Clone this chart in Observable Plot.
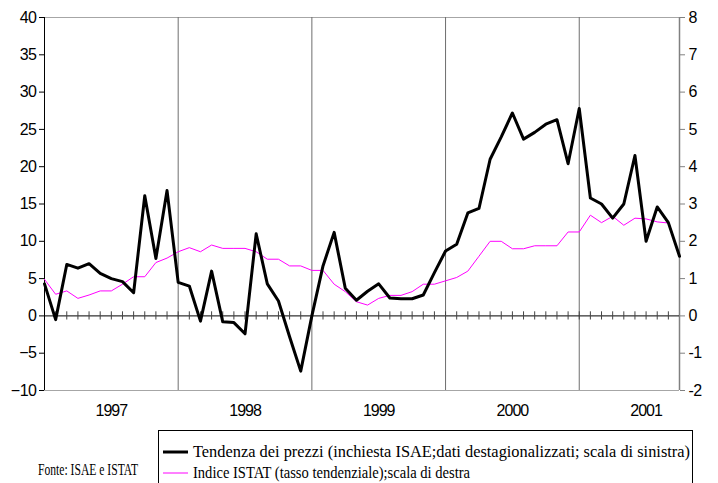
<!DOCTYPE html>
<html>
<head>
<meta charset="utf-8">
<script src="https://cdn.jsdelivr.net/npm/d3@7"></script>
<script src="https://cdn.jsdelivr.net/npm/@observablehq/plot@0.6"></script>
<style>
  html, body { margin: 0; padding: 0; background: #fff; }
  #chart svg { display: block; }
</style>
</head>
<body>
<div id="chart"></div>
<script>
// Monthly observations, index 0 = Jan 1997
const tendenza = [4.3, -0.5, 6.9, 6.4, 7.0, 5.7, 5.0, 4.6, 3.1, 16.1, 7.7, 16.8,
  4.5, 4.0, -0.7, 6.0, -0.8, -0.9, -2.4, 11.0, 4.3, 2.0, -2.8, -7.4,
  0.0, 6.7, 11.2, 3.7, 2.1, 3.3, 4.3, 2.4, 2.3, 2.3, 2.8, 5.8,
  8.7, 9.6, 13.8, 14.4, 21.0, 24.0, 27.2, 23.7, 24.6, 25.7, 26.3, 20.4,
  27.8, 15.8, 15.0, 13.1, 15.0, 21.5, 10.0, 14.6, 12.5, 8.0];
const istat = [0.98, 0.58, 0.67, 0.47, 0.56, 0.67, 0.67, 0.85, 1.05, 1.05, 1.43, 1.55,
  1.72, 1.83, 1.72, 1.9, 1.81, 1.81, 1.81, 1.72, 1.52, 1.52, 1.34, 1.34,
  1.22, 1.22, 0.85, 0.65, 0.38, 0.29, 0.47, 0.55, 0.55, 0.65, 0.85, 0.85,
  0.94, 1.03, 1.2, 1.6, 2.0, 2.0, 1.8, 1.8, 1.88, 1.88, 1.88, 2.25,
  2.25, 2.7, 2.5, 2.67, 2.43, 2.62, 2.6, 2.52, 2.49];
const years = ["1997", "1998", "1999", "2000", "2001"];
const leftTicks = [-10, -5, 0, 5, 10, 15, 20, 25, 30, 35, 40];
const rightTicks = [-2, -1, 0, 1, 2, 3, 4, 5, 6, 7, 8];
const seriesNames = [
  "Tendenza dei prezzi (inchiesta ISAE;dati destagionalizzati; scala di sinistra)",
  "Indice ISTAT (tasso tendenziale);scala di destra"
];
const source = "Fonte: ISAE e ISTAT";

const ratio = 5; // left units per right unit
const nMonths = tendenza.length;
const dataBlack = tendenza.map((v, i) => ({i, v}));
const dataPink = istat.map((v, i) => ({i, v: v * ratio}));
const monthTicks = d3.range(1, nMonths - 1);
const yearBounds = d3.range(1, years.length).map(j => j * 12);
const yearCenters = years.map((_, j) => j * 12 + 6);

const plot = Plot.plot({
  width: 718,
  height: 425,
  marginLeft: 44,
  marginRight: 39,
  marginTop: 17,
  marginBottom: 35,
  style: {fontFamily: "Liberation Sans, Arial, sans-serif", fontSize: "16px", background: "#fff"},
  x: {domain: [0, nMonths - 1]},
  y: {domain: [-10, 40]},
  marks: [
    Plot.ruleY([40], {stroke: "#a6a6a6"}),
    Plot.ruleY([-10], {stroke: "#a6a6a6"}),
    Plot.ruleX(yearBounds, {stroke: "#6e6e6e"}),
    Plot.ruleX([nMonths - 1], {stroke: "#808080", strokeWidth: 1.5}),
    Plot.ruleX([0], {stroke: "#000"}),
    Plot.ruleY([0], {stroke: "#000"}),
    Plot.ruleX(monthTicks, {x: d => d, y1: -0.55, y2: 0.55, stroke: "#444"}),
    Plot.axisY({anchor: "left", ticks: leftTicks, tickSize: 5, tickPadding: 3, label: null, fontSize: 16}),
    Plot.axisY({anchor: "right", ticks: rightTicks.map(d => d * ratio), tickFormat: d => String(d / ratio), tickSize: 5, tickPadding: 4, stroke: "#808080", label: null, fontSize: 16}),
    Plot.axisX({ticks: yearCenters, tickFormat: (d, i) => years[i], tickSize: 0, tickPadding: 14, label: null, fontSize: 16}),
    Plot.line(dataPink, {x: "i", y: "v", stroke: "#ff00ff", strokeWidth: 1}),
    Plot.line(dataBlack, {x: "i", y: "v", stroke: "#000", strokeWidth: 3})
  ]
});
document.getElementById("chart").appendChild(plot);
d3.select(plot).selectAll('g[aria-label="x-axis tick label"] text').attr("letter-spacing", -1);
d3.select(plot).selectAll('g[aria-label="y-axis tick label"] text').attr("letter-spacing", -0.5);

// Legend and source below the SVG
const leg = d3.select("#chart").append("svg")
  .attr("width", 718).attr("height", 58)
  .style("font-family", "Liberation Serif, 'Times New Roman', serif");
leg.append("rect").attr("x", 158.5).attr("y", 5.5).attr("width", 534).attr("height", 70)
  .attr("fill", "none").attr("stroke", "#000");
const rows = [{name: seriesNames[0], color: "#000", w: 3, y: 27, len: 497},
              {name: seriesNames[1], color: "#ff00ff", w: 1, y: 48, len: 277}];
rows.forEach(r => {
  leg.append("line").attr("x1", 163).attr("x2", 188).attr("y1", r.y).attr("y2", r.y)
    .attr("stroke", r.color).attr("stroke-width", r.w);
  leg.append("text").attr("x", 193).attr("y", r.y + 5).attr("font-size", 17)
    .attr("textLength", r.len).attr("lengthAdjust", "spacingAndGlyphs").text(r.name);
});
leg.append("text").attr("x", 38).attr("y", 50).attr("font-size", 16)
  .attr("textLength", 100).attr("lengthAdjust", "spacingAndGlyphs").text(source);
</script>
</body>
</html>
